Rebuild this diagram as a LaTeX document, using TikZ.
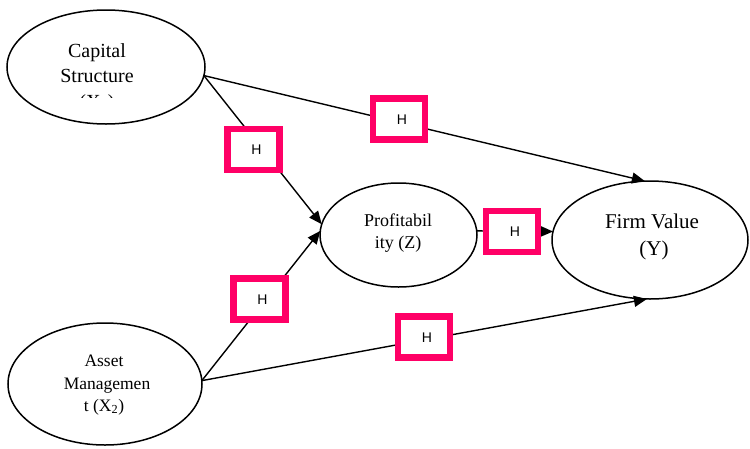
\documentclass[tikz,border=0pt]{standalone}
\usepackage{fontspec}
\setmainfont{Liberation Serif}
\newfontfamily\hfont{Liberation Sans}
\usetikzlibrary{shapes.geometric,arrows.meta}
\definecolor{pinkbox}{RGB}{255,0,102}
\tikzset{
 var/.style={draw, ellipse, line width=1.5pt, inner sep=0pt, outer sep=0pt, fill=white},
 lbl/.style={anchor=base, inner sep=0pt, align=center},
 conn/.style={line width=1.4pt, -{Triangle[length=13pt,width=11pt]}},
 hbox/.style={draw=pinkbox, line width=6.5pt, fill=white, minimum width=52pt, minimum height=41pt, inner sep=0pt, text height=10pt, text depth=0pt, align=center, font=\hfont\fontsize{14}{14}\selectfont},
}
\begin{document}
\begin{tikzpicture}[x=1pt,y=-1pt]
\useasboundingbox (0,0) rectangle (750,448);
% variables
\node[var, minimum width=198pt, minimum height=114pt] (cs) at (106,67) {};
\node[var, minimum width=194pt, minimum height=122pt] (am) at (105,384) {};
\node[var, minimum width=157pt, minimum height=104pt] (pz) at (398.5,235) {};
\node[var, minimum width=196pt, minimum height=118pt] (fv) at (650,240) {};
% labels
\node[lbl, font=\fontsize{20}{20}\selectfont] (cs1) at (97,57) {Capital};
\node[lbl, font=\fontsize{20}{20}\selectfont] (cs2) at (97,82) {Structure};
\begin{scope}
\clip (40,0) rectangle (160,97);
\node[lbl, font=\fontsize{20}{20}\selectfont] (cs3) at (97,108) {(X\textsubscript{1})};
\end{scope}
\node[lbl, font=\fontsize{17.5}{17.5}\selectfont] (am1) at (104,366) {Asset};
\node[lbl, font=\fontsize{17.5}{17.5}\selectfont] (am2) at (107,389) {Managemen};
\node[lbl, font=\fontsize{17.5}{17.5}\selectfont] (am3) at (104,411) {t (X\textsubscript{2})};
\node[lbl, font=\fontsize{18}{18}\selectfont] (pz1) at (398,226) {Profitabil};
\node[lbl, font=\fontsize{18}{18}\selectfont] (pz2) at (398,248) {ity (Z)};
\node[lbl, font=\fontsize{21}{21}\selectfont] (fv1) at (652,228) {Firm Value};
\node[lbl, font=\fontsize{21}{21}\selectfont] (fv2) at (654,255) {(Y)};
% connectors
\draw[conn] (cs.-5) -- (fv.95);
\draw[conn] (cs.-5) -- (pz.172);
\draw[conn] (am.2) -- (pz.177);
\draw[conn] (am.2) -- (fv.-93);
\draw[conn] (pz.3) -- (fv.175);
% coefficient boxes
\node[hbox] (b1) at (399,119) {\hspace*{6pt}H};
\node[hbox] (b2) at (253.5,149.5) {\hspace*{6pt}H};
\node[hbox] (b3) at (259.5,299) {\hspace*{6pt}H};
\node[hbox] (b4) at (424,337) {\hspace*{6pt}H};
\node[hbox] (b5) at (512,231.5) {\hspace*{6pt}H};
\end{tikzpicture}
\end{document}
